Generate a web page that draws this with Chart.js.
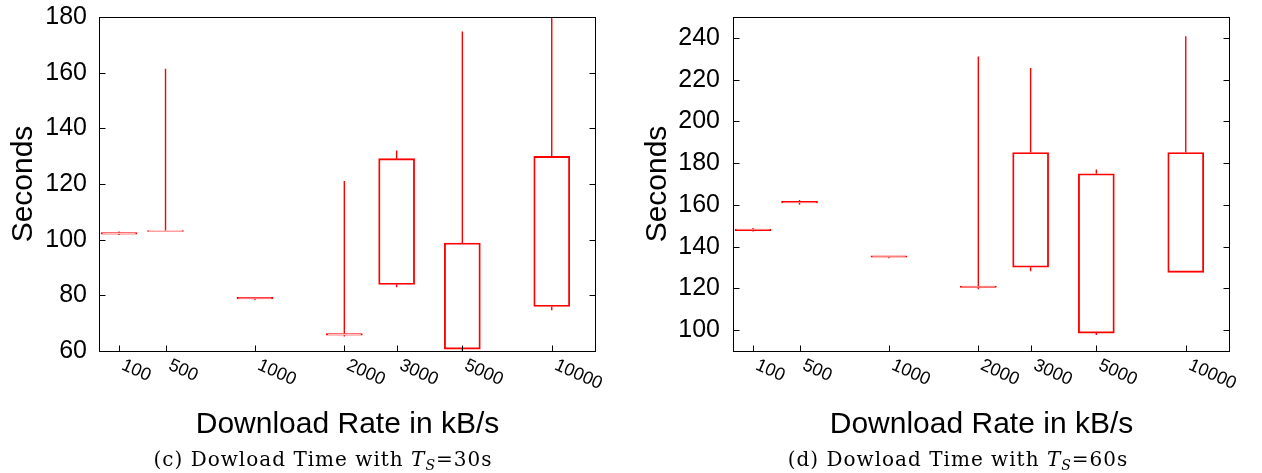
<!DOCTYPE html>
<html>
<head>
<meta charset="utf-8">
<script src="https://cdn.jsdelivr.net/npm/chart.js@4/dist/chart.umd.min.js"></script>
<style>
  html, body { margin: 0; padding: 0; background: #fff; }
  body { width: 1262px; height: 473px; position: relative; overflow: hidden; }
  .panel { position: absolute; top: 0; width: 631px; height: 473px; }
  .cap { position: absolute; top: 446px; height: 26px; line-height: 26px; text-align: center;
         font-family: "DejaVu Serif", serif; font-size: 20px; letter-spacing: 1px; color: #000; white-space: nowrap; }
  .cap i { font-style: italic; }
  .cap sub { font-size: 0.7em; font-style: italic; vertical-align: baseline; position: relative; top: 0.3em; }
</style>
</head>
<body>
<div class="panel" style="left:0"><canvas id="c30" width="631" height="473"></canvas></div>
<div class="panel" style="left:631px"><canvas id="c60" width="631" height="473"></canvas></div>
<div class="cap" style="left:0;width:646px">(c) Dowload Time with <i>T</i><sub>S</sub>=30s</div>
<div class="cap" style="left:658px;width:600px">(d) Dowload Time with <i>T</i><sub>S</sub>=60s</div>
<script>
// ---- data ----
const categories = ['100', '500', '1000', '2000', '3000', '5000', '10000'];
// slot of each download rate along the x axis
const xSlots = [0.48, 1, 2, 3, 3.585, 4.32, 5.32];
const xRange = [0.256, 5.815];

// T_S = 30s
const q1_30  = [102.0, 103.0, 78.7, 65.7, 83.9, 60.7, 76.0];
const q3_30  = [102.55, 103.3, 79.25, 66.25, 129.1, 98.8, 129.9];
const min_30 = [101.7, 103.0, 78.3, 65.2, 82.9, 60.1, 74.6];
const max_30 = [102.9, 161.4, 79.25, 121.1, 132.0, 174.8, 196.0];
const yTicks30 = [60, 80, 100, 120, 140, 160, 180];

// T_S = 60s
const q1_60  = [147.7, 160.9, 134.9, 120.4, 130.1, 98.6, 127.7];
const q3_60  = [148.45, 161.65, 135.65, 121.15, 185.1, 174.9, 185.1];
const min_60 = [147.3, 160.1, 134.4, 119.6, 128.2, 97.7, 127.7];
const max_60 = [148.9, 162.3, 135.65, 231.1, 225.6, 177.0, 240.8];
const yTicks60 = [100, 120, 140, 160, 180, 200, 220, 240];

const RED = '#ff0000';

const decorPlugin = {
  id: 'decor',
  afterDraw(chart, args, opts) {
    const {ctx, chartArea: a, scales} = chart;
    const xs = scales.x, ys = scales.y;
    ctx.save();
    ctx.strokeStyle = '#000';
    ctx.lineWidth = 1;
    const line = (x1, y1, x2, y2) => { ctx.beginPath(); ctx.moveTo(x1, y1); ctx.lineTo(x2, y2); ctx.stroke(); };
    const L = Math.round(a.left) + 0.5, R = Math.round(a.right) - 0.5;
    const T = Math.round(a.top) + 0.5, B = Math.round(a.bottom) + 0.5;
    ctx.strokeRect(L, T, R - L, B - T);
    // y ticks (inward, both sides)
    opts.yTicks.forEach(v => {
      const y = Math.round(ys.getPixelForValue(v)) + 0.5;
      line(L, y, L + 6, y);
      line(R - 6, y, R, y);
    });
    // x ticks (inward) + rotated labels
    ctx.fillStyle = '#000';
    xSlots.forEach((v, i) => {
      const x = Math.round(xs.getPixelForValue(v)) + 0.5;
      line(x, B, x, B - 6);
      ctx.save();
      ctx.translate(x + 3, B + 13);
      ctx.rotate(24 * Math.PI / 180);
      ctx.font = '18px "Liberation Sans", Arial, sans-serif';
      ctx.textAlign = 'left';
      ctx.textBaseline = 'middle';
      ctx.fillText(categories[i], 0, 0);
      ctx.restore();
    });
    // axis titles
    ctx.font = '30px "Liberation Sans", Arial, sans-serif';
    ctx.textAlign = 'center';
    ctx.textBaseline = 'alphabetic';
    ctx.fillText('Download Rate in kB/s', (a.left + a.right) / 2, 433);
    ctx.save();
    ctx.translate(opts.yTitleX, (a.top + a.bottom) / 2);
    ctx.rotate(-Math.PI / 2);
    ctx.fillText('Seconds', 0, 0);
    ctx.restore();
    ctx.restore();
  }
};

function makeChart(id, q1, q3, mn, mx, yMin, yMax, yTicks, yWidth, padRight, yTitleX, tickPad) {
  const boxes = xSlots.map((x, i) => ({x: x, y: [q1[i], q3[i]]}));
  const whiskers = [];
  xSlots.forEach((x, i) => {
    whiskers.push({x: x, y: q3[i]}, {x: x, y: mx[i]}, {x: x, y: null});
    whiskers.push({x: x, y: mn[i]}, {x: x, y: q1[i]}, {x: x, y: null});
  });
  return new Chart(document.getElementById(id), {
    type: 'bar',
    data: {
      datasets: [
        {
          type: 'bar', data: boxes,
          backgroundColor: 'rgba(0,0,0,0)', borderColor: RED, borderWidth: 1.2,
          borderSkipped: false, barThickness: 36
        },
        {
          type: 'line', data: whiskers,
          borderColor: RED, borderWidth: 1.4, pointRadius: 0, spanGaps: false,
          tension: 0, fill: false, clip: 0
        }
      ]
    },
    options: {
      responsive: false,
      animation: false,
      events: [],
      layout: { padding: { left: 0, top: 17, right: padRight, bottom: 122 } },
      plugins: {
        legend: { display: false },
        tooltip: { enabled: false },
        decor: { yTicks: yTicks, yTitleX: yTitleX }
      },
      scales: {
        x: {
          type: 'linear', min: xRange[0], max: xRange[1], offset: false,
          display: false, grid: { display: false, offset: false }
        },
        y: {
          type: 'linear', min: yMin, max: yMax, beginAtZero: false,
          afterFit: s => { s.width = yWidth; s.paddingTop = 0; s.paddingBottom = 0; },
          afterBuildTicks: s => { s.ticks = yTicks.map(v => ({value: v})); },
          grid: { display: false, drawTicks: false },
          border: { display: false },
          ticks: {
            color: '#000', padding: tickPad,
            font: { family: '"Liberation Sans", Arial, sans-serif', size: 25 }
          }
        }
      }
    },
    plugins: [decorPlugin]
  });
}

makeChart('c30', q1_30, q3_30, min_30, max_30, 60, 180, yTicks30, 99, 35, 32, 12);
makeChart('c60', q1_60, q3_60, min_60, max_60, 90, 250, yTicks60, 102, 32, 35, 13);
</script>
</body>
</html>
